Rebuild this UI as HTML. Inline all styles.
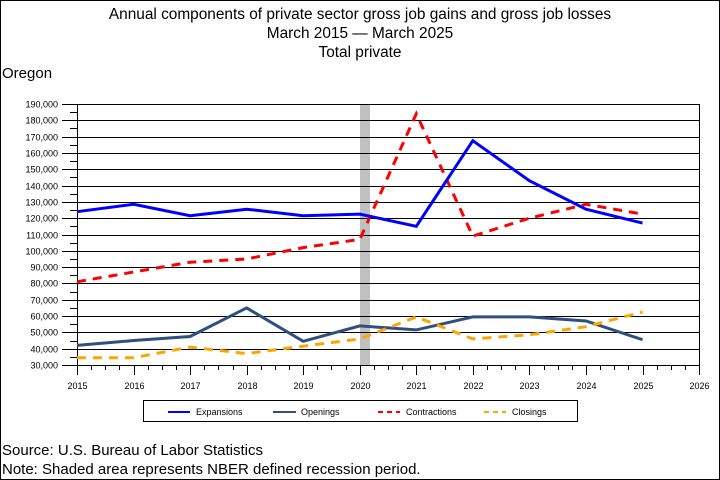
<!DOCTYPE html>
<html><head><style>
body{margin:0;background:#fff}
svg{display:block;font-family:"Liberation Sans",Arial,sans-serif}
</style></head><body>
<svg width="720" height="480" viewBox="0 0 720 480" xmlns="http://www.w3.org/2000/svg">
<rect x="0.5" y="0.5" width="719" height="479" fill="#fff" stroke="#000"/>
<g font-size="15.4" text-anchor="middle" fill="#000">
<text x="360" y="19">Annual components of private sector gross job gains and gross job losses</text>
<text x="360" y="38">March 2015 — March 2025</text>
<text x="360" y="57">Total private</text>
</g>
<text x="2" y="78" font-size="15">Oregon</text>
<rect x="360" y="104" width="10" height="261" fill="#c0c0c0"/>
<g id="grid" stroke="#000" stroke-width="1"></g>
<g id="labels" font-size="9" fill="#000"></g>
<g id="series" fill="none" stroke-width="3"></g>
<rect x="143.5" y="400.5" width="434" height="21" fill="none" stroke="#000"/>
<g font-size="9">
<line x1="168" y1="412" x2="190" y2="412" stroke="#0000ff" stroke-width="2"/><text x="196" y="415">Expansions</text>
<line x1="273" y1="412" x2="296" y2="412" stroke="#2f4f7f" stroke-width="2"/><text x="301" y="415">Openings</text>
<line x1="378" y1="412" x2="400" y2="412" stroke="#ff0000" stroke-width="2" stroke-dasharray="5,4"/><text x="406" y="415">Contractions</text>
<line x1="484" y1="412" x2="506" y2="412" stroke="#ffa500" stroke-width="2" stroke-dasharray="5,4"/><text x="512" y="415">Closings</text>
</g>
<text x="2" y="455" font-size="15">Source: U.S. Bureau of Labor Statistics</text>
<text x="2" y="474" font-size="15">Note: Shaded area represents NBER defined recession period.</text>
<script>
(function(){
var NS="http://www.w3.org/2000/svg";
function el(p,t,a){var e=document.createElementNS(NS,t);for(var k in a)e.setAttribute(k,a[k]);p.appendChild(e);return e;}
var g=document.getElementById('grid'),L=document.getElementById('labels'),S=document.getElementById('series');
function Y(v){return 365-(v-30000)/10000*16.3125;}
function X(yr){return 77+(yr-2015)*56.55;}
for(var i=0;i<=16;i++){var v=30000+i*10000,y=Math.round(Y(v))+0.5;
 el(g,'line',{x1:62,y1:y,x2:699,y2:y});
 var t=el(L,'text',{x:58,y:y+3,'text-anchor':'end'});t.textContent=(v/1000)+",000";
 if(i<16){var ym=Math.round(Y(v+5000))+0.5;el(g,'line',{x1:70,y1:ym,x2:77,y2:ym});}
}
el(g,'line',{x1:77.5,y1:104,x2:77.5,y2:365});
el(g,'line',{x1:699.5,y1:104,x2:699.5,y2:365});
for(var yr=2015;yr<=2026;yr++){var x=Math.round(X(yr))+0.5;
 el(g,'line',{x1:x,y1:365,x2:x,y2:375});
 var t=el(L,'text',{x:x,y:389,'text-anchor':'middle'});t.textContent=yr;
 if(yr<2026)for(var k=1;k<4;k++){var xm=Math.round(X(yr+k/4))+0.5;el(g,'line',{x1:xm,y1:365,x2:xm,y2:370});}
}
var d={
"#2f4f7f":[42000,45000,47500,65000,44500,54000,51500,59500,59500,57000,45500],
"#ffa500":[34500,34500,41000,37000,41500,46000,59500,46000,48500,53500,62500],
"#ff0000":[81000,87000,93000,95000,102000,107000,184000,109000,120000,128500,122500],
"#0000ff":[124000,128500,121500,125500,121500,122500,115000,167500,143000,125500,117000]};
for(var c in d){var pts=d[c].map(function(v,i){return X(2015+i).toFixed(1)+","+Y(v).toFixed(1);}).join(" ");
 var a={points:pts,stroke:c};if(c=="#ff0000"||c=="#ffa500")a['stroke-dasharray']="9,7";
 el(S,'polyline',a);}
})();
</script>
</svg>
</body></html>
